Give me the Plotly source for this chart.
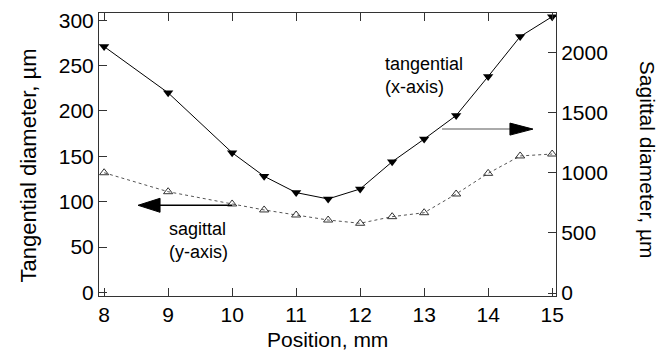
import plotly.graph_objects as go

# Data
position = [8, 9, 10, 10.5, 11, 11.5, 12, 12.5, 13, 13.5, 14, 14.5, 15]
tangential = [271, 220, 154, 128, 110, 103, 114, 144, 169, 195, 238, 282, 304]
sagittal = [1002, 844, 742, 692, 650, 608, 581, 636, 669, 825, 997, 1142, 1158]

left_ticks = [0, 50, 100, 150, 200, 250, 300]
right_ticks = [0, 500, 1000, 1500, 2000]
x_ticks = [8, 9, 10, 11, 12, 13, 14, 15]

FONT = "Liberation Sans, Arial, Helvetica, sans-serif"

fig = go.Figure()
fig.add_trace(go.Scatter(
    x=position, y=sagittal, yaxis="y2", mode="lines+markers",
    line=dict(color="#555555", width=1, dash="dot"),
    marker=dict(symbol="triangle-up-open", size=8, color="#333333", line=dict(width=1)),
    showlegend=False))
fig.add_trace(go.Scatter(
    x=position, y=tangential, mode="lines+markers",
    line=dict(color="#000000", width=1),
    marker=dict(symbol="triangle-down", size=9, color="#000000"),
    showlegend=False))

axis_common = dict(showline=True, linecolor="#333333", linewidth=1, ticks="inside",
                   ticklen=8, tickcolor="#333333", showgrid=False, zeroline=False,
                   automargin=False,
                   tickfont=dict(family=FONT, size=21, color="#000000"))

fig.update_layout(
    width=670, height=354,
    margin=dict(l=99, r=114, t=13, b=58, autoexpand=False),
    paper_bgcolor="white", plot_bgcolor="white",
    font=dict(family=FONT, color="#000000"),
    xaxis=dict(range=[7.92, 15.06], tickvals=x_ticks, mirror="ticks", **axis_common),
    yaxis=dict(range=[-4, 308], tickvals=left_ticks, **axis_common),
    yaxis2=dict(range=[-25, 2333], tickvals=right_ticks, overlaying="y", side="right",
                **axis_common),
)

# Axis titles
fig.add_annotation(text="Position, mm", xref="paper", yref="paper",
                   x=0.5, y=-0.155, xanchor="center", yanchor="middle", showarrow=False,
                   font=dict(family=FONT, size=21))
fig.add_annotation(text="Tangential diameter, µm", xref="paper", yref="paper",
                   x=-0.154, y=0.46, xanchor="center", yanchor="middle",
                   showarrow=False, textangle=-90,
                   font=dict(family=FONT, size=22))
fig.add_annotation(text="Sagittal diameter, µm", xref="paper", yref="paper",
                   x=1.202, y=0.48, xanchor="center", yanchor="middle",
                   showarrow=False, textangle=90,
                   font=dict(family=FONT, size=21))

# Labels
fig.add_annotation(text="tangential<br>(x-axis)", x=12.36, y=265, xref="x", yref="y",
                   xanchor="left", yanchor="top", align="left", showarrow=False,
                   font=dict(family=FONT, size=18))
fig.add_annotation(text="sagittal<br>(y-axis)", x=8.98, y=83, xref="x", yref="y",
                   xanchor="left", yanchor="top", align="left", showarrow=False,
                   font=dict(family=FONT, size=18))

# Arrows: shafts
fig.add_shape(type="line", xref="x", yref="y", x0=13.28, x1=14.4, y0=180, y1=180,
              line=dict(color="#aaaaaa", width=2))
fig.add_shape(type="line", xref="x", yref="y", x0=8.8, x1=10.0, y0=96, y1=96,
              line=dict(color="#000000", width=1.5))
# Arrow heads
fig.add_shape(type="path", xref="x", yref="y", xsizemode="pixel", ysizemode="pixel",
              xanchor=14.70, yanchor=180, path="M0,0 L-23,6 L-23,-6 Z",
              fillcolor="#000000", line=dict(color="#000000", width=1))
fig.add_shape(type="path", xref="x", yref="y", xsizemode="pixel", ysizemode="pixel",
              xanchor=8.53, yanchor=96, path="M0,0 L22,7 L22,-7 Z",
              fillcolor="#000000", line=dict(color="#000000", width=1))

fig.write_html("out.html")
